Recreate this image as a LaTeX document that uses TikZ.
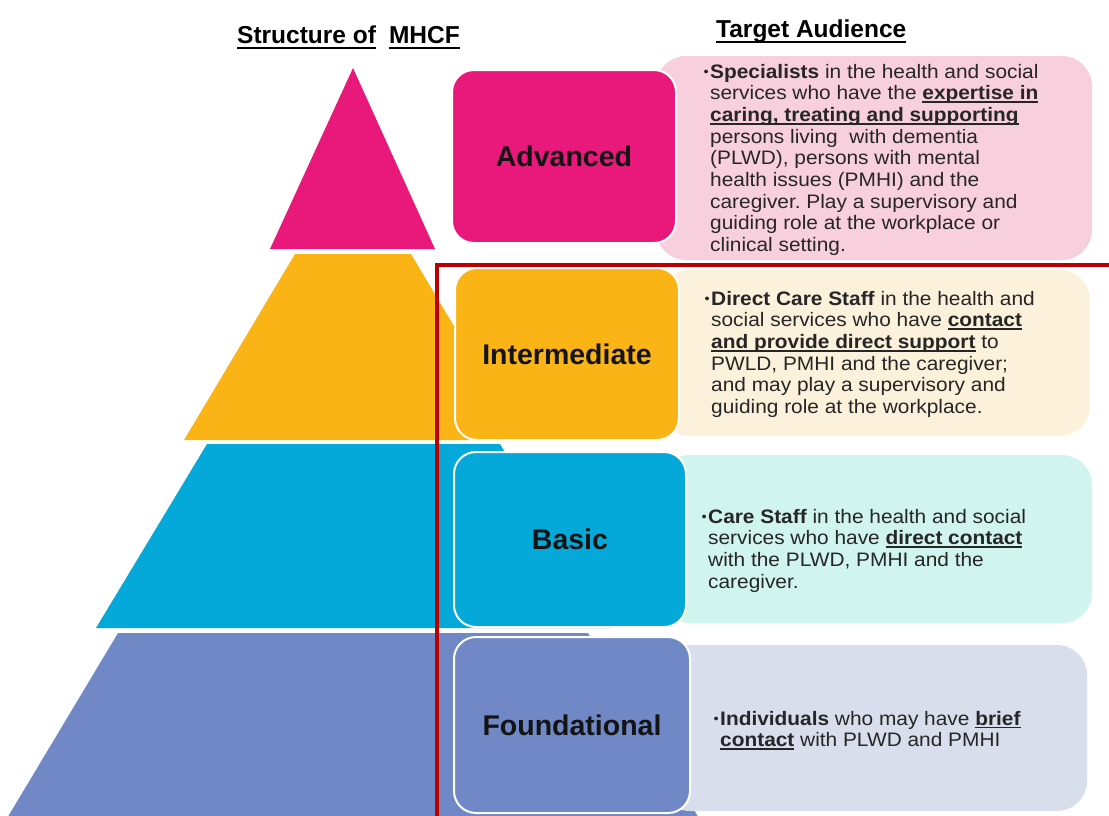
\documentclass[tikz,border=0pt]{standalone}
\usepackage{fontspec}
\setmainfont{Liberation Sans}
\newfontfamily\bodyfont[FakeStretch=1.07]{Liberation Sans}
\usetikzlibrary{positioning}
\frenchspacing
\definecolor{advpink}{HTML}{E8197B}
\definecolor{midamber}{HTML}{FBB415}
\definecolor{basiccyan}{HTML}{05A9D9}
\definecolor{foundblue}{HTML}{7088C6}
\definecolor{advsoft}{HTML}{F8CFDC}
\definecolor{midsoft}{HTML}{FCF1DB}
\definecolor{basicsoft}{HTML}{D0F4EE}
\definecolor{foundsoft}{HTML}{D9DEEC}
\definecolor{frame}{HTML}{BA0000}
\definecolor{bodyink}{HTML}{262626}
\definecolor{labelink}{HTML}{141414}
% underlined bold phrase, rule kept at a fixed depth
\newcommand\ulbf[1]{\setbox0\hbox{\bfseries #1}\rlap{\rule[-3.2pt]{\wd0}{1.5pt}}\box0\relax}
\newcommand\ulhead[1]{\setbox0\hbox{#1}\rlap{\rule[-6pt]{\wd0}{2.2pt}}\box0\relax}
% small hanging bullet
\newcommand\hbul{\llap{\raisebox{1.5pt}{\scalebox{0.7}{\textbullet}}\kern1.5pt}}
\tikzset{
  levelbox/.style={
    rectangle,
    rounded corners=22pt,
    draw=white,
    line width=2pt,
    align=center,
    text=labelink,
    font=\fontsize{28.5}{32}\selectfont\bfseries
  },
  audbox/.style={
    rectangle,
    rounded corners=30pt,
    inner sep=0pt
  },
  % anchored on the baseline of the last line
  audtext/.style={
    anchor=base west,
    inner sep=0pt,
    align=left,
    text=bodyink,
    font=\bodyfont\fontsize{19.5}{21.7}\selectfont
  },
  heading/.style={
    anchor=base west,
    inner sep=0pt,
    text=black,
    font=\fontsize{24.5}{28}\selectfont\bfseries
  }
}

\begin{document}
\begin{tikzpicture}[x=1pt, y=-1pt]
  \useasboundingbox (0,0) rectangle (1109,815);

  % headings
  \node[heading] (structure) at (237,43) {\ulhead{Structure of}\hspace{13pt}\ulhead{MHCF}};
  \node[heading] (audience) at (716,37) {\ulhead{Target Audience}};

  % pyramid tiers
  \fill[advpink] (353,68) -- (435,249) -- (270,249) -- cycle;
  \fill[midamber] (295,254) -- (411,254) -- (522,440) -- (184,440) -- cycle;
  \fill[basiccyan] (207,444) -- (500,444) -- (611,628) -- (96,628) -- cycle;
  \fill[foundblue] (118,633) -- (588,633) -- (700,820) -- (6,820) -- cycle;

  % frame round the lower three tiers
  \draw[frame, line width=3.5pt] (1115,265) -| (437,820);

  % audience boxes
  \node[audbox, fill=advsoft, minimum width=436pt, minimum height=204pt] (advbox) at (874,158) {};
  \node[audbox, fill=midsoft, minimum width=430pt, minimum height=166pt] (midbox) at (875,353) {};
  \node[audbox, fill=basicsoft, minimum width=432pt, minimum height=168pt] (basicbox) at (876,539) {};
  \node[audbox, fill=foundsoft, minimum width=427pt, minimum height=166pt] (foundbox) at (873.5,728) {};

  % level labels
  \node[levelbox, fill=advpink, minimum width=224pt, minimum height=173pt] (adv) at (564,156.5) {Advanced};
  \node[levelbox, fill=midamber, minimum width=224pt, minimum height=172pt] (mid) at (567,354) {Intermediate};
  \node[levelbox, fill=basiccyan, minimum width=232pt, minimum height=175pt] (basic) at (570,539.5) {Basic};
  \node[levelbox, fill=foundblue, minimum width=236pt, minimum height=176pt] (found) at (572,725) {Foundational};

  % audience descriptions
  \node[audtext] (advtext) at (710,251.6) {\hbul\textbf{Specialists} in the health and social\\
    services who have the \ulbf{expertise in}\\
    \ulbf{caring, treating and supporting}\\
    persons living\ \ with dementia\\
    (PLWD), persons with mental\\
    health issues (PMHI) and the\\
    caregiver. Play a supervisory and\\
    guiding role at the workplace or\\
    clinical setting.};
  \node[audtext] (midtext) at (711,413.5) {\hbul\textbf{Direct Care Staff} in the health and\\
    social services who have \ulbf{contact}\\
    \ulbf{and provide direct support} to\\
    PWLD, PMHI and the caregiver;\\
    and may play a supervisory and\\
    guiding role at the workplace.};
  \node[audtext] (basictext) at (708,588.1) {\hbul\textbf{Care Staff} in the health and social\\
    services who have \ulbf{direct contact}\\
    with the PLWD, PMHI and the\\
    caregiver.};
  \node[audtext] (foundtext) at (720,746.7) {\hbul\textbf{Individuals} who may have \ulbf{brief}\\
    \ulbf{contact} with PLWD and PMHI};
\end{tikzpicture}
\end{document}
